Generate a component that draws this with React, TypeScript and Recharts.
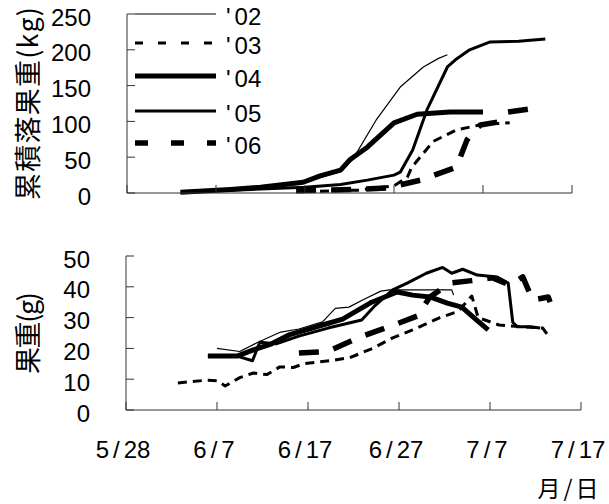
import React from 'react';
import { LineChart, Line, XAxis, YAxis, Legend } from 'recharts';

// ---- axes ----
const xTicks = [0, 10, 20, 30, 40, 50]; // days after 5/28
const xTickLabels = ['5/28', '6/7', '6/17', '6/27', '7/7', '7/17'];
const topYTicks = [0, 50, 100, 150, 200, 250];
const bottomYTicks = [0, 10, 20, 30, 40, 50];
const seriesNames = ["'02", "'03", "'04", "'05", "'06"];

// ---- top panel: cumulative dropped fruit weight (kg) ----
const top02Days = [6, 12, 16, 20, 24, 25.3, 25.8, 28, 30.7, 33.3, 35, 36];
const top02Vals = [0.5, 5, 8, 15, 30, 46, 56, 102, 148, 176, 188, 193];
const top03Days = [20, 26, 30, 31.5, 32, 34.4, 37, 38.5, 40, 43];
const top03Vals = [2, 4, 10, 22, 36, 72, 88, 92, 96, 98];
const top04Days = [6, 11.6, 15, 19.8, 21.7, 24, 25, 27, 30, 32.6, 36.3, 40];
const top04Vals = [1, 5, 8, 15, 24, 32, 46, 64, 98, 110, 113, 113];
const top05Days = [8, 14, 20, 24, 27, 30, 30.7, 32.1, 32.9, 33.7, 36, 36.9, 38.5, 40.8, 44, 47];
const top05Vals = [2, 5, 8, 12, 18, 25, 29, 60, 88, 116, 176, 186, 200, 211, 212, 215];
const top06Days = [19, 22, 26, 29.2, 33, 37, 38.2, 38.8, 39.7, 41.6, 42.7, 46.7];
const top06Vals = [3, 4, 5, 7, 18, 36, 74, 84, 95, 99, 113, 120];

// ---- bottom panel: fruit weight (g) ----
const bot02Days = [10, 12.5, 14.5, 17, 19, 21.6, 23, 24.5, 26, 28, 29, 32.3, 35.8, 36];
const bot02Vals = [20, 19, 22, 25.3, 26.3, 28.6, 33, 33.4, 35.7, 38.6, 39, 39, 39, 37.3];
const bot03Days = [5.7, 8.9, 10, 10.9, 12.5, 14, 15.5, 16.9, 18.4, 19.5, 22.4, 24.6, 27.1, 29.3, 31.5, 34.5, 36.5, 38, 38.7, 41, 43.6, 45.8, 46.3];
const bot03Vals = [8.8, 9.7, 9.5, 7.8, 10.5, 12, 11.5, 14, 13.8, 15, 16, 17, 20, 23.4, 26, 30, 32, 37, 30, 27.6, 27, 26.6, 24.5];
const bot04Days = [9, 12.2, 14, 16, 18, 21.6, 23.8, 27, 29.8, 31.5, 33.4, 35.3, 36.9, 38.6, 39.8];
const bot04Vals = [17.5, 17.5, 19.5, 21.5, 24.5, 27.6, 29.5, 35, 38.3, 37.3, 36.7, 34.7, 33.4, 29, 26];
const bot05Days = [9, 12.2, 13.9, 14.7, 16.5, 19, 22.2, 25.9, 27.4, 29.3, 30.9, 33, 34.8, 35.8, 37, 38.6, 40.8, 42, 42.5, 43, 44.4, 45.5];
const bot05Vals = [17.5, 17.5, 16, 22, 21.5, 24, 26.6, 29.2, 34, 39, 41.2, 44.4, 46.3, 44.4, 45.7, 43.8, 43.2, 41.2, 28.5, 27, 27, 26.6];
const bot06Days = [19, 22.2, 25.7, 29.8, 32, 33.4, 35.6, 38, 40.3, 42.2, 43.6, 44.7, 46.4, 46.6];
const bot06Vals = [18.5, 19, 23.7, 28, 30.5, 36.7, 41.2, 42, 42.9, 40.6, 43.2, 35.7, 36.7, 35];

const zip = (d: number[], v: number[]) => d.map((x, i) => ({ d: x, v: v[i] }));

const topSeries = [
  zip(top02Days, top02Vals),
  zip(top03Days, top03Vals),
  zip(top04Days, top04Vals),
  zip(top05Days, top05Vals),
  zip(top06Days, top06Vals),
];
const bottomSeries = [
  zip(bot02Days, bot02Vals),
  zip(bot03Days, bot03Vals),
  zip(bot04Days, bot04Vals),
  zip(bot05Days, bot05Vals),
  zip(bot06Days, bot06Vals),
];

// ---- styles ----
const lineWidths = [1.2, 3, 5, 3, 5.5];
const lineDash = [undefined, '9 6', undefined, undefined, '20 15'];
const legendDash = [undefined, '8 15', undefined, undefined, '13 23'];
const legendY = [14, 43, 76, 111, 143];

const NUM_FONT = '"Liberation Sans", Arial, sans-serif';
const CJK_FONT = '"Noto Sans CJK JP", "Liberation Sans", sans-serif';
const AXIS = '#333';

const YTick = (props: any) => {
  const { x, y, payload } = props;
  return (
    <g>
      <line x1={x} y1={y} x2={x + 8} y2={y} stroke={AXIS} strokeWidth={1} />
      <text x={x - 36} y={y + 3} textAnchor="end" dominantBaseline="central" fontSize={24} fontFamily={NUM_FONT} fill="#000">
        {payload.value}
      </text>
    </g>
  );
};

const TopXTick = (props: any) => {
  const { x, y } = props;
  return <line x1={x} y1={y} x2={x} y2={y - 8} stroke={AXIS} strokeWidth={1} />;
};

const BottomXTick = (props: any) => {
  const { x, y, payload, index } = props;
  const i = typeof index === 'number' ? index : xTicks.indexOf(payload.value);
  const label = xTickLabels[i] ?? '';
  const [a, b] = label.split('/');
  return (
    <g>
      <line x1={x} y1={y} x2={x} y2={y - 8} stroke={AXIS} strokeWidth={1} />
      <text x={x - 3} y={y + 39} textAnchor="middle" dominantBaseline="central" fontSize={24} fontFamily={NUM_FONT} fill="#000">
        <tspan>{a}</tspan>
        <tspan dx={4}>/</tspan>
        <tspan dx={4}>{b}</tspan>
      </text>
    </g>
  );
};

const VTitle = (text: string, cx: number, cy: number, len: number) => (
  <text
    x={cx}
    y={cy}
    transform={`rotate(-90, ${cx}, ${cy})`}
    textAnchor="middle"
    dominantBaseline="central"
    fontSize={27}
    fontFamily={CJK_FONT}
    fill="#000"
    textLength={len}
    lengthAdjust="spacing"
  >
    {text}
  </text>
);

const LegendGraphic = () => (
  <svg width={280} height={165} style={{ display: 'block', overflow: 'visible' }}>
    {seriesNames.map((name, i) => (
      <g key={name}>
        <line
          x1={135}
          x2={216}
          y1={legendY[i]}
          y2={legendY[i]}
          stroke="#000"
          strokeWidth={lineWidths[i]}
          strokeDasharray={legendDash[i]}
        />
        <text x={226} y={legendY[i] + 2} dominantBaseline="central" fontSize={24} fontFamily={NUM_FONT} fill="#000">
          <tspan>{name.slice(0, 1)}</tspan>
          <tspan dx={4}>{name.slice(1)}</tspan>
        </text>
      </g>
    ))}
  </svg>
);

export default function App() {
  return (
    <div style={{ position: 'absolute', left: 0, top: 0, width: 609, height: 504, background: '#fff', overflow: 'hidden' }}>
      <div style={{ position: 'absolute', left: 0, top: 0 }}>
        <LineChart width={609} height={215} margin={{ top: 14, right: 37, bottom: 0, left: 0 }} style={{ overflow: 'visible' }}>
          <XAxis
            type="number"
            dataKey="d"
            domain={[0, 50]}
            ticks={xTicks}
            interval={0}
            height={22}
            tickSize={0}
            tickMargin={0}
            tickLine={false}
            axisLine={{ stroke: AXIS }}
            tick={(p: any) => <TopXTick {...p} />}
            allowDataOverflow
          />
          <YAxis
            type="number"
            domain={[0, 250]}
            ticks={topYTicks}
            interval={0}
            width={127}
            tickSize={0}
            tickMargin={0}
            tickLine={false}
            axisLine={{ stroke: AXIS }}
            tick={(p: any) => <YTick {...p} />}
            label={(p: any) => {
              const vb = p && p.viewBox ? p.viewBox : { x: 0, y: 14, width: 127, height: 179 };
              return VTitle('累積落果重(kg)', 26, vb.y + vb.height / 2, 193);
            }}
          />
          <Legend
            layout="horizontal"
            verticalAlign="middle"
            align="center"
            content={() => <LegendGraphic />}
            wrapperStyle={{ position: 'absolute', left: 0, top: 0, width: 280, height: 165 }}
          />
          {topSeries.map((data, i) => (
            <Line
              key={seriesNames[i]}
              data={data}
              dataKey="v"
              name={seriesNames[i]}
              type="linear"
              stroke="#000"
              strokeWidth={lineWidths[i]}
              strokeDasharray={lineDash[i]}
              strokeLinejoin="round"
              dot={false}
              activeDot={false}
              isAnimationActive={false}
            />
          ))}
        </LineChart>
      </div>
      <div style={{ position: 'absolute', left: 0, top: 220 }}>
        <LineChart width={609} height={284} margin={{ top: 36, right: 28, bottom: 0, left: 0 }} style={{ overflow: 'visible' }}>
          <XAxis
            type="number"
            dataKey="d"
            domain={[0, 50]}
            ticks={xTicks}
            interval={0}
            height={94}
            tickSize={0}
            tickMargin={0}
            tickLine={false}
            axisLine={{ stroke: AXIS }}
            tick={(p: any) => <BottomXTick {...p} />}
            allowDataOverflow
            label={(p: any) => {
              const vb = p && p.viewBox ? p.viewBox : { x: 126, y: 190, width: 455, height: 94 };
              const cx = vb.x + vb.width - 13;
              const cy = vb.y + 77;
              return (
                <text x={cx} y={cy} textAnchor="middle" dominantBaseline="central" fontSize={23} fontFamily={CJK_FONT} fill="#000">
                  <tspan>月</tspan>
                  <tspan dx={3}>/</tspan>
                  <tspan dx={3}>日</tspan>
                </text>
              );
            }}
          />
          <YAxis
            type="number"
            domain={[0, 50]}
            ticks={bottomYTicks}
            interval={0}
            width={126}
            tickSize={0}
            tickMargin={0}
            tickLine={false}
            axisLine={{ stroke: AXIS }}
            tick={(p: any) => <YTick {...p} />}
            label={(p: any) => {
              const vb = p && p.viewBox ? p.viewBox : { x: 0, y: 36, width: 126, height: 154 };
              return VTitle('果重(g)', 26, vb.y + vb.height / 2, 82);
            }}
          />
          {bottomSeries.map((data, i) => (
            <Line
              key={seriesNames[i]}
              data={data}
              dataKey="v"
              name={seriesNames[i]}
              type="linear"
              stroke="#000"
              strokeWidth={lineWidths[i]}
              strokeDasharray={lineDash[i]}
              strokeLinejoin="round"
              dot={false}
              activeDot={false}
              isAnimationActive={false}
            />
          ))}
        </LineChart>
      </div>
    </div>
  );
}
